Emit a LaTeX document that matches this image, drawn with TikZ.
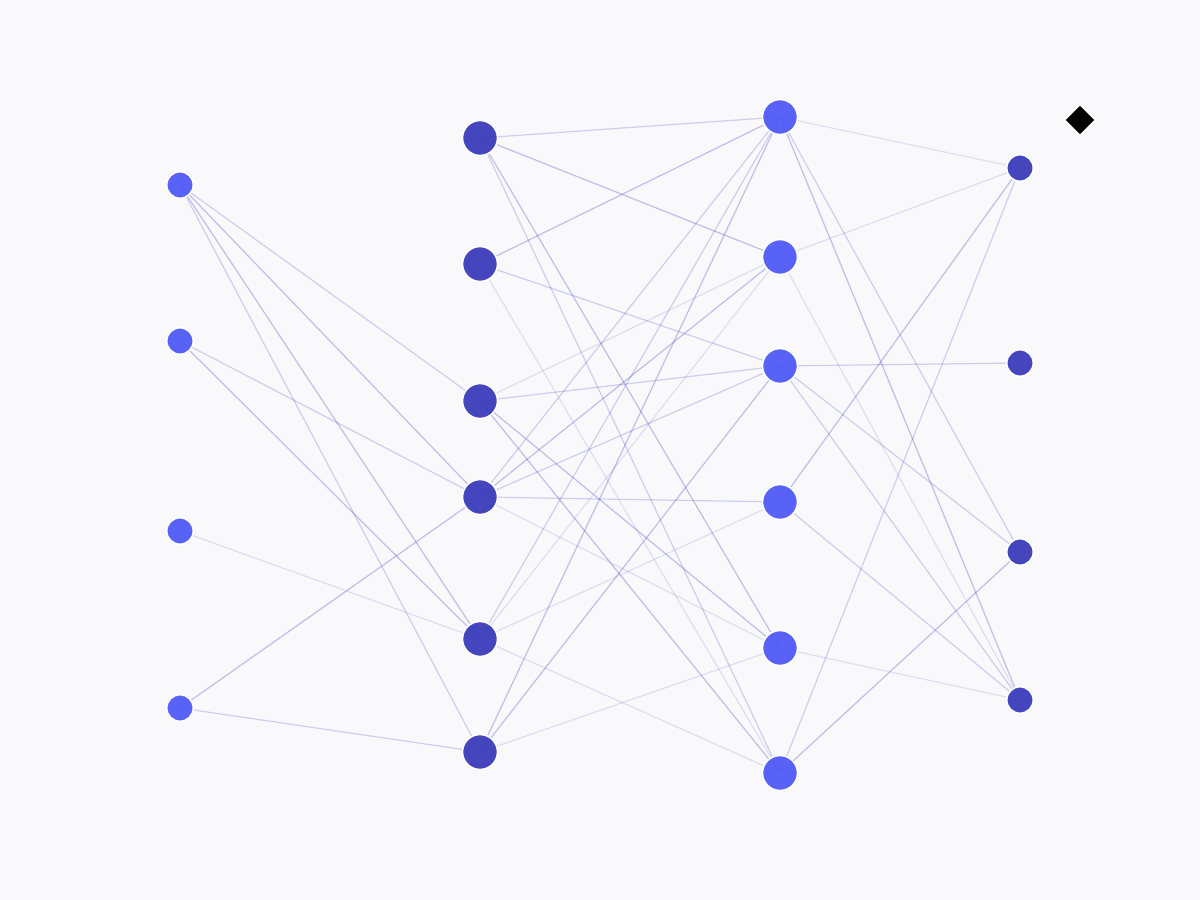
\documentclass[tikz,border=0pt]{standalone}
\usepackage{tikz}
\usetikzlibrary{positioning,shapes.geometric}
\usepackage{xcolor}
\definecolor{bgcol}{RGB}{249,249,252}
\definecolor{brightunit}{RGB}{82,92,246}
\definecolor{darkunit}{RGB}{62,62,188}
\definecolor{wirecol}{RGB}{64,64,192}
\pgfdeclarelayer{back}
\pgfdeclarelayer{wires}
\pgfsetlayers{back,wires,main}
\begin{document}
\begin{tikzpicture}[x=0.01cm,y=-0.01cm,
  unit/.style={circle,draw=white,line width=.45pt,inner sep=0pt,fill opacity=.96},
  small/.style={unit,minimum size=.265cm},
  big/.style={unit,minimum size=.35cm},
  wstrong/.style={draw=wirecol,line width=.35pt,opacity=.31},
  wmid/.style={draw=wirecol,line width=.35pt,opacity=.23},
  wfaint/.style={draw=wirecol,line width=.35pt,opacity=.14}]
\begin{pgfonlayer}{back}
\fill[bgcol] (0,0) rectangle (1200,900);
\end{pgfonlayer}
\useasboundingbox (0,0) rectangle (1200,900);
% input layer
\node[small,fill=brightunit] (a1) at (180,185) {};
\node[small,fill=brightunit] (a2) at (180,341) {};
\node[small,fill=brightunit] (a3) at (180,531) {};
\node[small,fill=brightunit] (a4) at (180,708) {};
% first hidden layer
\node[big,fill=darkunit] (b1) at (480,138) {};
\node[big,fill=darkunit] (b2) at (480,264) {};
\node[big,fill=darkunit] (b3) at (480,401) {};
\node[big,fill=darkunit] (b4) at (480,497) {};
\node[big,fill=darkunit] (b5) at (480,639) {};
\node[big,fill=darkunit] (b6) at (480,752) {};
% second hidden layer
\node[big,fill=brightunit] (c1) at (780,117) {};
\node[big,fill=brightunit] (c2) at (780,257) {};
\node[big,fill=brightunit] (c3) at (780,366) {};
\node[big,fill=brightunit] (c4) at (780,502) {};
\node[big,fill=brightunit] (c5) at (780,648) {};
\node[big,fill=brightunit] (c6) at (780,773) {};
% output layer
\node[small,fill=darkunit] (d1) at (1020,168) {};
\node[small,fill=darkunit] (d2) at (1020,363) {};
\node[small,fill=darkunit] (d3) at (1020,552) {};
\node[small,fill=darkunit] (d4) at (1020,700) {};
\node[diamond,fill=black,inner sep=0pt,minimum size=.29cm] (mark1) at (1080,120) {};
\begin{pgfonlayer}{wires}
\draw[wmid] (a1.center) -- (b3.center);
\draw[wstrong] (a1.center) -- (b4.center);
\draw[wstrong] (a1.center) -- (b5.center);
\draw[wmid] (a1.center) -- (b6.center);
\draw[wmid] (a2.center) -- (b4.center);
\draw[wstrong] (a2.center) -- (b5.center);
\draw[wfaint] (a3.center) -- (b5.center);
\draw[wstrong] (a4.center) -- (b4.center);
\draw[wmid] (a4.center) -- (b6.center);
\draw[wmid] (b1.center) -- (c1.center);
\draw[wstrong] (b1.center) -- (c2.center);
\draw[wstrong] (b1.center) -- (c5.center);
\draw[wmid] (b1.center) -- (c6.center);
\draw[wstrong] (b2.center) -- (c1.center);
\draw[wmid] (b2.center) -- (c3.center);
\draw[wfaint] (b2.center) -- (c6.center);
\draw[wfaint] (b3.center) -- (c2.center);
\draw[wmid] (b3.center) -- (c3.center);
\draw[wstrong] (b3.center) -- (c5.center);
\draw[wstrong] (b3.center) -- (c6.center);
\draw[wmid] (b4.center) -- (c1.center);
\draw[wstrong] (b4.center) -- (c2.center);
\draw[wmid] (b4.center) -- (c3.center);
\draw[wmid] (b4.center) -- (c4.center);
\draw[wfaint] (b4.center) -- (c5.center);
\draw[wmid] (b5.center) -- (c1.center);
\draw[wfaint] (b5.center) -- (c2.center);
\draw[wfaint] (b5.center) -- (c4.center);
\draw[wfaint] (b5.center) -- (c6.center);
\draw[wstrong] (b6.center) -- (c1.center);
\draw[wstrong] (b6.center) -- (c3.center);
\draw[wfaint] (b6.center) -- (c5.center);
\draw[wfaint] (c1.center) -- (d1.center);
\draw[wmid] (c1.center) -- (d3.center);
\draw[wstrong] (c1.center) -- (d4.center);
\draw[wfaint] (c2.center) -- (d1.center);
\draw[wfaint] (c2.center) -- (d4.center);
\draw[wmid] (c3.center) -- (d2.center);
\draw[wmid] (c3.center) -- (d3.center);
\draw[wmid] (c3.center) -- (d4.center);
\draw[wstrong] (c4.center) -- (d1.center);
\draw[wmid] (c4.center) -- (d4.center);
\draw[wfaint] (c5.center) -- (d4.center);
\draw[wmid] (c6.center) -- (d1.center);
\draw[wstrong] (c6.center) -- (d3.center);
\end{pgfonlayer}
\end{tikzpicture}
\end{document}
